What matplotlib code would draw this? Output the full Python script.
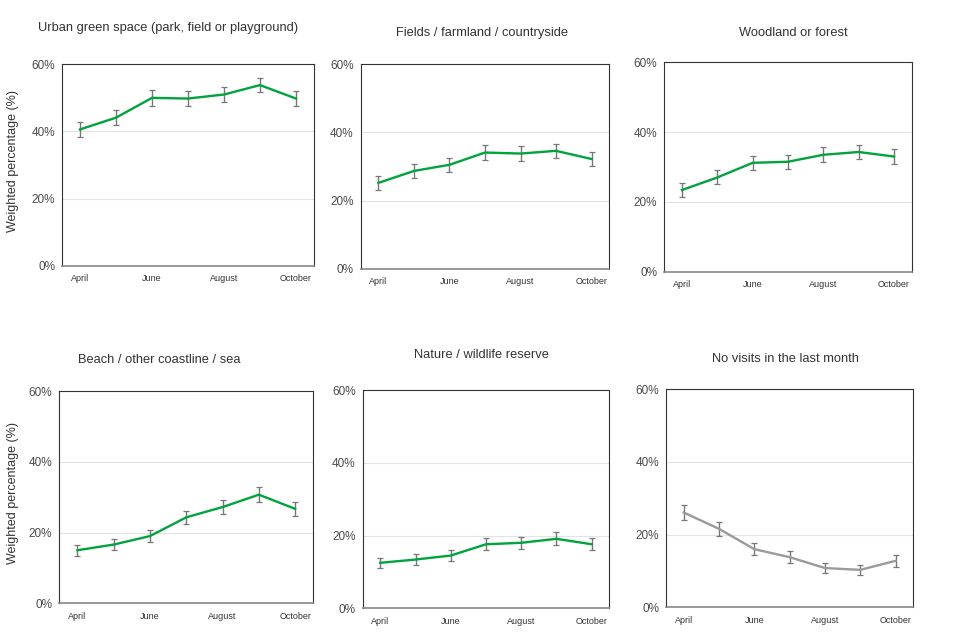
import matplotlib
matplotlib.use('Agg')
import matplotlib.pyplot as plt
from matplotlib.ticker import PercentFormatter

plt.rcParams['font.family'] = ['Liberation Sans', 'DejaVu Sans']

months = ['April', 'May', 'June', 'July', 'August', 'September', 'October']
shown_months = ['April', 'June', 'August', 'October']

titles = ['Urban green space (park, field or playground)',
          'Fields / farmland / countryside',
          'Woodland or forest',
          'Beach / other coastline / sea',
          'Nature / wildlife reserve',
          'No visits in the last month']

urban = [40.6, 44.1, 50.0, 49.8, 51.0, 53.8, 49.8]
urban_err = [2.2, 2.2, 2.3, 2.3, 2.3, 2.2, 2.3]
fields = [25.2, 28.7, 30.5, 34.1, 33.8, 34.6, 32.2]
fields_err = [2.0, 2.0, 2.1, 2.1, 2.1, 2.1, 2.1]
woodland = [23.4, 27.0, 31.2, 31.5, 33.5, 34.3, 33.0]
woodland_err = [1.9, 2.0, 2.0, 2.0, 2.1, 2.1, 2.1]
beach = [15.0, 16.6, 19.0, 24.3, 27.2, 30.7, 26.7]
beach_err = [1.6, 1.6, 1.7, 1.9, 2.0, 2.1, 2.0]
nature = [12.5, 13.4, 14.5, 17.6, 18.0, 19.1, 17.6]
nature_err = [1.4, 1.5, 1.5, 1.6, 1.7, 1.8, 1.7]
no_visits = [26.1, 21.6, 16.0, 13.8, 10.8, 10.3, 12.8]
no_visits_err = [2.1, 1.9, 1.6, 1.6, 1.4, 1.4, 1.6]

series = [urban, fields, woodland, beach, nature, no_visits]
errors = [urban_err, fields_err, woodland_err, beach_err, nature_err, no_visits_err]
colors = ['#00a33c'] * 5 + ['#9a9a9a']

# axes boxes in pixels: left, top, right, bottom
boxes = [(62, 64.3, 314, 265.7), (360.7, 64.3, 609.3, 268.7), (664.3, 62.3, 911.7, 271.7),
         (59.3, 391, 313.3, 603.3), (362.7, 390, 609.3, 608.3), (666, 389.3, 913.3, 607.3)]
title_pos = [(168, 28), (481.5, 33), (793, 33), (159.5, 360), (481.5, 355), (785, 359)]

W, H = 960, 640
fig = plt.figure(figsize=(9.6, 6.4), dpi=100)

for i in range(6):
    l, t, r, b = boxes[i]
    ax = fig.add_axes([l / W, 1 - b / H, (r - l) / W, (b - t) / H])
    x = list(range(len(months)))
    ax.errorbar(x, series[i], yerr=errors[i], color=colors[i], lw=1.7,
                ecolor='#777777', elinewidth=1.0, capsize=2.2, capthick=0.9, zorder=3)
    ax.set_xlim(-0.5, 6.5)
    ax.set_ylim(0, 60)
    ax.set_yticks([0, 20, 40, 60])
    ax.yaxis.set_major_formatter(PercentFormatter(decimals=0))
    ax.set_xticks([months.index(m) for m in shown_months])
    ax.set_xticklabels(shown_months)
    ax.tick_params(axis='x', length=0, labelsize=6.5, colors='#333333', pad=6)
    ax.tick_params(axis='y', length=0, labelsize=8.5, colors='#4a4a4a', pad=5)
    for y in [20, 40]:
        ax.axhline(y, color='#e3e3e3', lw=0.8, zorder=1)
    for s in ['top', 'right', 'left']:
        ax.spines[s].set_color('#333333')
        ax.spines[s].set_linewidth(0.8)
    ax.spines['bottom'].set_color('#888888')
    ax.spines['bottom'].set_linewidth(1.2)
    tx, ty = title_pos[i]
    fig.text(tx / W, 1 - ty / H, titles[i], ha='center', va='center',
             fontsize=9.3, color='#333333')
    if i in (0, 3):
        cy = (t + b) / 2 - 4
        fig.text(13 / W, 1 - cy / H, 'Weighted percentage (%)', rotation=90,
                 ha='center', va='center', fontsize=9, color='#333333')

fig.savefig('out.png', dpi=100)
